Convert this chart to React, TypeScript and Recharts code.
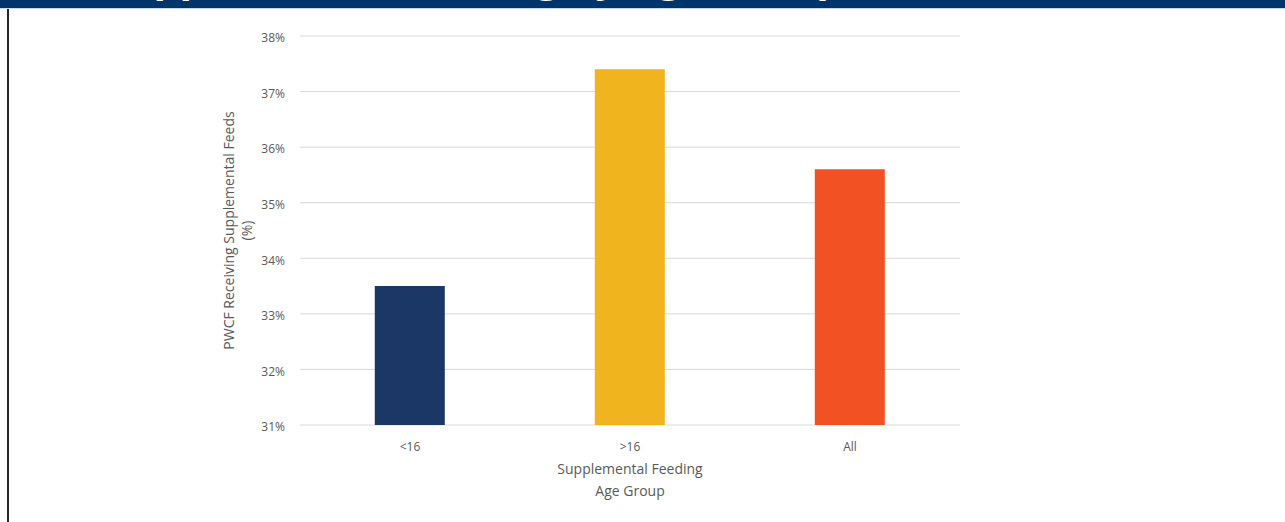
import React from 'react';
import { BarChart, Bar, XAxis, YAxis, CartesianGrid, Cell, Label } from 'recharts';

// Share of PWCF receiving supplemental feeds, by age group
const categories = ['<16', '>16', 'All'];
const values = [33.5, 37.4, 35.6];
const barColors = ['#1B3766', '#F0B41F', '#F15123'];
const yTicks = [31, 32, 33, 34, 35, 36, 37, 38];

const titleText = 'Supplemental Feeding by Age Group';
const xTitleLines = ['Supplemental Feeding', 'Age Group'];
const yTitleLines = ['PWCF Receiving Supplemental Feeds', '(%)'];

const data = categories.map((c, i) => ({ group: c, pct: values[i] }));

const FONT = '"Open Sans", "DejaVu Sans", sans-serif';
const TEXT = '#595959';

const XTitle = (props: any) => {
  const vb = props.viewBox || {};
  const cx = vb.x + vb.width / 2;
  return (
    <text x={cx} textAnchor="middle" fill={TEXT} fontSize={14} fontFamily={FONT}>
      {xTitleLines.map((t, i) => (
        <tspan key={t} x={cx} y={vb.y + 49 + i * 22}>
          {t}
        </tspan>
      ))}
    </text>
  );
};

const YTitle = (props: any) => {
  const vb = props.viewBox || {};
  const cy = vb.y + vb.height / 2;
  const xs = [228, 246];
  return (
    <g>
      {yTitleLines.map((t, i) => (
        <text
          key={t}
          x={xs[i]}
          y={cy}
          transform={`rotate(-90, ${xs[i]}, ${cy})`}
          textAnchor="middle"
          dominantBaseline="central"
          fill={TEXT}
          fontSize={14}
          fontFamily={FONT}
        >
          {t}
        </text>
      ))}
    </g>
  );
};

export default function App() {
  return (
    <div
      style={{
        position: 'absolute',
        left: 0,
        top: 0,
        width: 1285,
        height: 522,
        background: '#ffffff',
        overflow: 'hidden',
      }}
    >
      {/* header band; the slide title sits above the visible area */}
      <svg width={1285} height={10} style={{ position: 'absolute', left: 0, top: 0 }}>
        <defs>
          <clipPath id="band">
            <rect x={0} y={0} width={1285} height={7} />
          </clipPath>
        </defs>
        <rect x={0} y={0} width={1285} height={8} fill="#00356B" />
        <rect x={0} y={8} width={1285} height={1} fill="#C9DCEF" />
        <text
          x={104}
          y={-9}
          fill="#ffffff"
          fontSize={41}
          fontWeight={700}
          fontFamily={FONT}
          clipPath="url(#band)"
        >
          {titleText}
        </text>
      </svg>
      <div
        style={{
          position: 'absolute',
          left: 7,
          top: 9,
          width: 2,
          height: 513,
          background: '#262626',
        }}
      />
      <div style={{ position: 'absolute', left: 0, top: 0 }}>
        <BarChart
          width={1285}
          height={522}
          data={data}
          margin={{ top: 36, right: 325, bottom: 67, left: 240 }}
          barCategoryGap="34%"
        >
          <CartesianGrid vertical={false} stroke="#D9D9D9" strokeWidth={1} />
          <XAxis
            dataKey="group"
            height={30}
            axisLine={false}
            tickLine={false}
            tickMargin={11}
            tick={{ fill: TEXT, fontSize: 12, fontFamily: FONT }}
          >
            <Label content={<XTitle />} />
          </XAxis>
          <YAxis
            width={60}
            domain={[31, 38]}
            ticks={yTicks}
            interval={0}
            axisLine={false}
            tickLine={false}
            tickMargin={9}
            tickFormatter={(v: number) => `${v}%`}
            tick={{ fill: TEXT, fontSize: 12, fontFamily: FONT, dy: 2 }}
          >
            <Label content={<YTitle />} />
          </YAxis>
          <Bar dataKey="pct" isAnimationActive={false}>
            {data.map((d, i) => (
              <Cell key={d.group} fill={barColors[i]} />
            ))}
          </Bar>
        </BarChart>
      </div>
    </div>
  );
}
